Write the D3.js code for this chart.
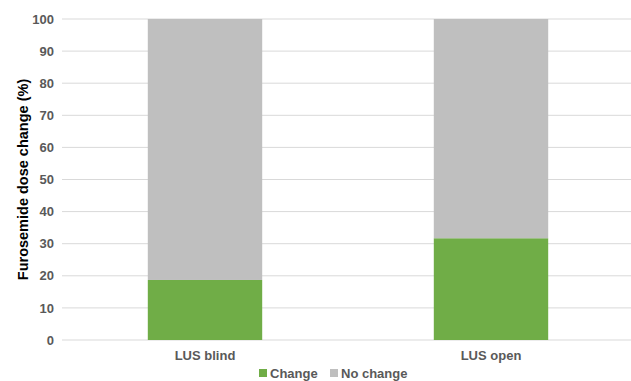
<!DOCTYPE html>
<html lang="en">
<head>
    <meta charset="UTF-8">
    <title>Furosemide dose change</title>
    <style>
        body { margin: 0; background: #fff; }
        svg text { font-family: "Liberation Sans", Arial, sans-serif; }
    </style>
    <script src="https://d3js.org/d3.v7.min.js"></script>
</head>
<body>
    <div id="chart"></div>
    <script>
        const categories = ["LUS blind", "LUS open"];
        const seriesNames = ["Change", "No change"];
        const changeValues = [18.7, 31.7];
        const noChangeValues = [81.3, 68.3];
        const yTicks = [0, 10, 20, 30, 40, 50, 60, 70, 80, 90, 100];
        const colors = ["#70AD47", "#BFBFBF"];

        const W = 631, H = 381;
        const margin = { top: 19, right: -3, bottom: 41, left: 62 };
        const width = W - margin.left - margin.right;
        const height = H - margin.top - margin.bottom;

        const svg = d3.select("#chart").append("svg")
            .attr("width", W).attr("height", H);
        const g = svg.append("g")
            .attr("transform", `translate(${margin.left},${margin.top})`);

        const x = d3.scaleBand().domain(categories).range([0, width])
            .paddingInner(0.6).paddingOuter(0.3);
        const y = d3.scaleLinear().domain([0, 100]).range([height, 0]);

        // gridlines
        g.selectAll(".grid").data(yTicks).enter().append("line")
            .attr("x1", 0).attr("x2", width)
            .attr("y1", d => y(d)).attr("y2", d => y(d))
            .attr("stroke", "#D9D9D9").attr("stroke-width", 1);

        const rows = categories.map((c, i) => ({ cat: c, Change: changeValues[i], "No change": noChangeValues[i] }));
        const stacked = d3.stack().keys(seriesNames)(rows);

        g.selectAll(".series").data(stacked).enter().append("g")
            .attr("fill", (d, i) => colors[i])
            .selectAll("rect").data(d => d).enter().append("rect")
            .attr("x", d => x(d.data.cat))
            .attr("width", x.bandwidth())
            .attr("y", d => y(d[1]))
            .attr("height", d => y(d[0]) - y(d[1]));

        const yAxis = d3.axisLeft(y).tickValues(yTicks).tickSize(0).tickPadding(8);
        g.append("g").call(yAxis)
            .call(a => a.select(".domain").remove())
            .selectAll("text")
            .attr("fill", "#595959").style("font-size", "13px").style("font-weight", "bold");

        const xAxis = d3.axisBottom(x).tickSize(0).tickPadding(11);
        g.append("g").attr("transform", `translate(0,${height})`).call(xAxis)
            .call(a => a.select(".domain").remove())
            .selectAll("text")
            .attr("fill", "#595959").style("font-size", "13px").style("font-weight", "bold");

        svg.append("text")
            .attr("transform", `translate(28,${margin.top + height / 2}) rotate(-90)`)
            .attr("text-anchor", "middle")
            .style("font-size", "14.5px").style("font-weight", "bold")
            .attr("fill", "#000")
            .text("Furosemide dose change (%)");

        // legend
        const legend = svg.append("g").attr("transform", "translate(259,373)");
        const offsets = [0, 71];
        const items = legend.selectAll(".item").data(seriesNames).enter().append("g")
            .attr("transform", (d, i) => `translate(${offsets[i]},0)`);
        items.append("rect").attr("x", 0).attr("y", -4).attr("width", 8).attr("height", 8)
            .attr("fill", (d, i) => colors[i]);
        items.append("text").attr("x", 11).attr("y", 5)
            .attr("fill", "#595959").style("font-size", "13px").style("font-weight", "bold")
            .text(d => d);
    </script>
</body>
</html>
